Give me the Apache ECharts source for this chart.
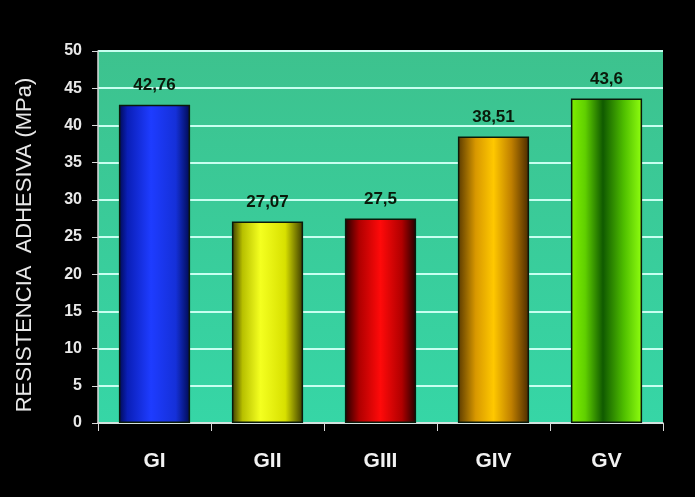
<!DOCTYPE html>
<html><head><meta charset="utf-8">
<script src="https://cdn.jsdelivr.net/npm/echarts@6/dist/echarts.min.js"></script>
<style>html,body{margin:0;padding:0;background:#000;}#c{width:695px;height:497px;}</style>
</head><body><div id="c"></div>
<script>
const categories = ['GI', 'GII', 'GIII', 'GIV', 'GV'];
const values = [42.76, 27.07, 27.5, 38.51, 43.6];
const valueLabels = ['42,76', '27,07', '27,5', '38,51', '43,6'];
const yTicks = [0, 5, 10, 15, 20, 25, 30, 35, 40, 45, 50];

const grads = [
  [[0,'#000a55'],[0.12,'#0a1fb8'],[0.45,'#1e3cff'],[0.8,'#1530d8'],[1,'#000a50']],
  [[0,'#3a3a00'],[0.15,'#b8c000'],[0.4,'#f4ff20'],[0.75,'#d8e000'],[1,'#3a3a00']],
  [[0,'#200000'],[0.2,'#b00000'],[0.5,'#ff0a0a'],[0.8,'#b00000'],[1,'#200000']],
  [[0,'#5a3a00'],[0.25,'#d89800'],[0.5,'#ffc800'],[0.75,'#c08000'],[1,'#4a2a00']],
  [[0,'#80f000'],[0.2,'#60d000'],[0.45,'#105a00'],[0.75,'#50c000'],[1,'#90ff10']]
];
const chart = echarts.init(document.getElementById('c'));
chart.setOption({
  backgroundColor: '#000',
  animation: false,
  grid: {left: 98, right: 32, top: 51, bottom: 74, show: true, borderWidth: 0,
    backgroundColor: new echarts.graphic.LinearGradient(0,0,0,1,[{offset:0,color:'#3dc28e'},{offset:1,color:'#36d6a6'}])},
  xAxis: {
    type: 'category', data: categories,
    axisLine: {lineStyle: {color: '#d8d8d8', width: 1.5}},
    axisTick: {show: true, length: 8, lineStyle: {color: '#d8d8d8'}},
    axisLabel: {color: '#f2f2f2', fontWeight: 'bold', fontSize: 21, fontFamily: 'Liberation Sans, Arial', margin: 28}
  },
  yAxis: {
    type: 'value', min: 0, max: 50, interval: 5,
    name: 'RESISTENCIA  ADHESIVA (MPa)', nameLocation: 'middle', nameGap: 62,
    nameTextStyle: {color: '#e8e8e8', fontSize: 22, fontFamily: 'Liberation Sans, Arial', padding: [0, 16, 0, 0]},
    axisLine: {show: true, lineStyle: {color: '#d8d8d8', width: 1.5}},
    axisTick: {show: true, length: 6, lineStyle: {color: '#d8d8d8'}},
    axisLabel: {color: '#e8e8e8', fontWeight: 'bold', fontSize: 16, fontFamily: 'Liberation Sans, Arial', margin: 16,
      formatter: v => yTicks.includes(v) ? String(v) : ''},
    splitLine: {lineStyle: {color: '#c8fff0', width: 2}}
  },
  series: [{
    type: 'bar', barWidth: '63%',
    data: values.map((v, i) => ({value: v, itemStyle: {
      color: new echarts.graphic.LinearGradient(0,0,1,0, grads[i].map(s => ({offset: s[0], color: s[1]}))),
      borderColor: '#0a1a0a', borderWidth: 1.5}})),
    label: {show: true, position: 'top', distance: 11, color: '#0a1a0a', fontWeight: 'bold', fontSize: 17,
      fontFamily: 'Liberation Sans, Arial', formatter: p => valueLabels[p.dataIndex]}
  }]
});
</script></body></html>
